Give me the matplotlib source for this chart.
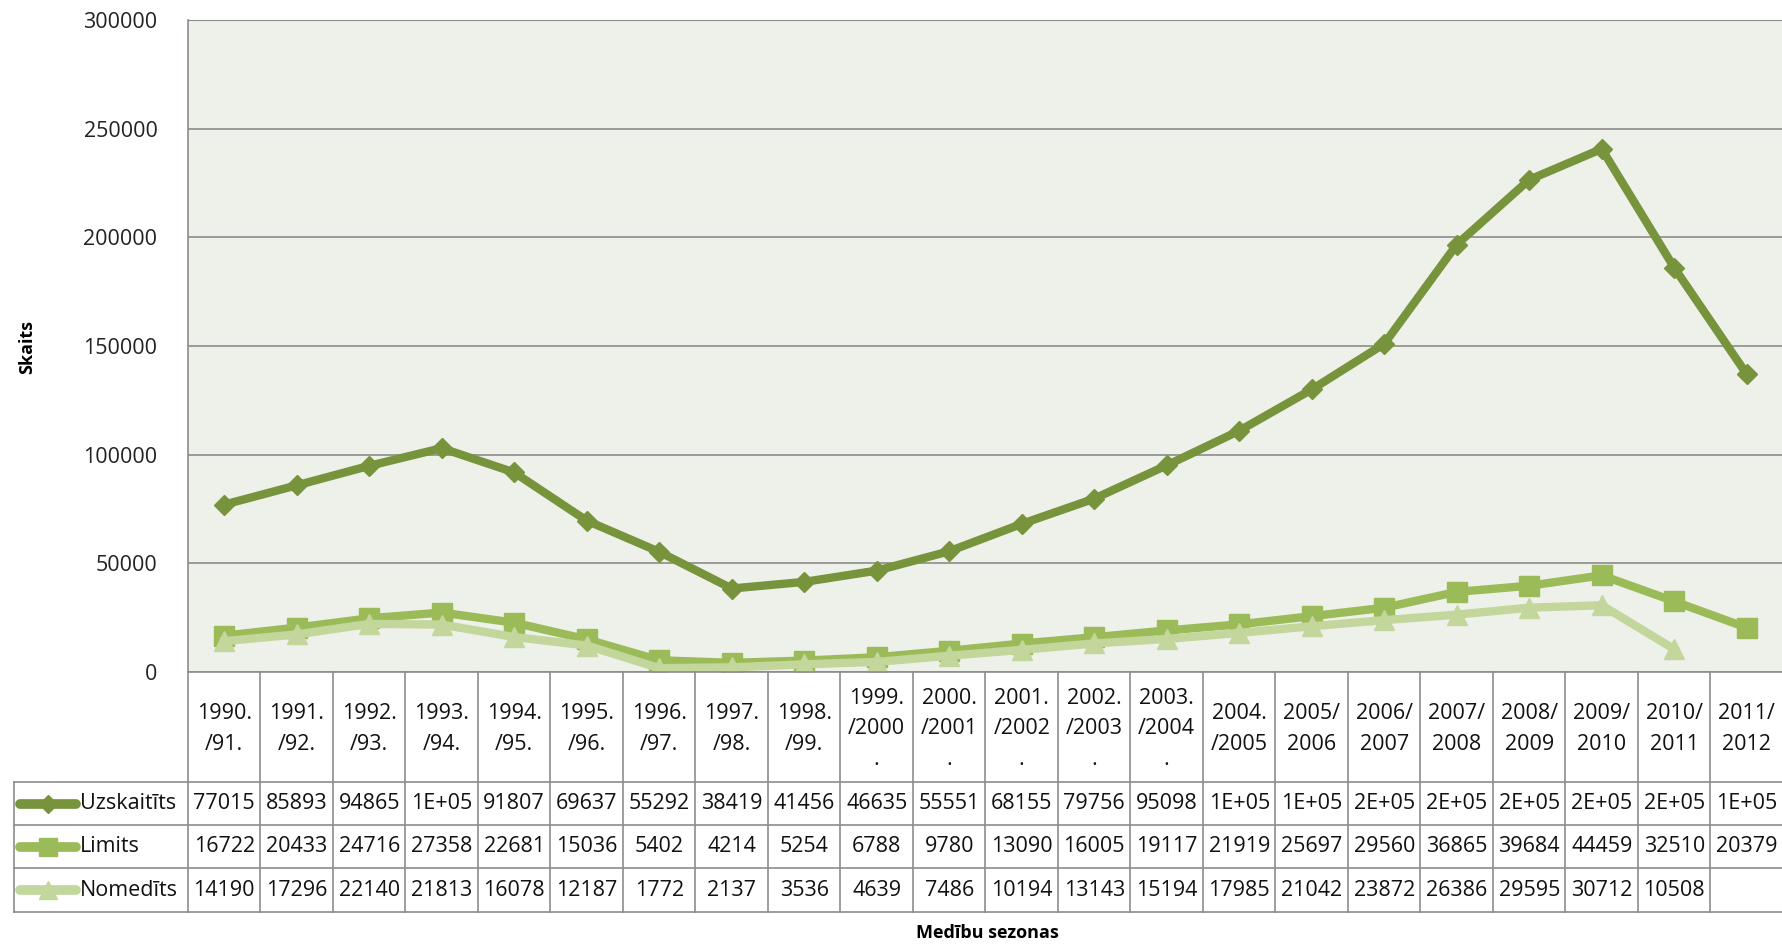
import matplotlib
matplotlib.use('Agg')
import matplotlib.pyplot as plt
import numpy as np
from matplotlib.lines import Line2D
from matplotlib import transforms

plt.rcParams['font.family'] = ['Open Sans', 'DejaVu Sans']

# kategorijas (medību sezonas)
sezonas = ['1990.\n/91.', '1991.\n/92.', '1992.\n/93.', '1993.\n/94.', '1994.\n/95.',
           '1995.\n/96.', '1996.\n/97.', '1997.\n/98.', '1998.\n/99.',
           '1999.\n/2000\n.', '2000.\n/2001\n.', '2001.\n/2002\n.', '2002.\n/2003\n.',
           '2003.\n/2004\n.', '2004.\n/2005', '2005/\n2006', '2006/\n2007', '2007/\n2008',
           '2008/\n2009', '2009/\n2010', '2010/\n2011', '2011/\n2012']

uzskaitits = [77015, 85893, 94865, 103000, 91807, 69637, 55292, 38419, 41456, 46635,
              55551, 68155, 79756, 95098, 111000, 130000, 151000, 196700, 226500,
              240700, 186000, 137000]
limits = [16722, 20433, 24716, 27358, 22681, 15036, 5402, 4214, 5254, 6788, 9780,
          13090, 16005, 19117, 21919, 25697, 29560, 36865, 39684, 44459, 32510, 20379]
nomedits = [14190, 17296, 22140, 21813, 16078, 12187, 1772, 2137, 3536, 4639, 7486,
            10194, 13143, 15194, 17985, 21042, 23872, 26386, 29595, 30712, 10508, np.nan]

serijas = [('Uzskaitīts', uzskaitits, '#77933C', 'D', 10),
           ('Limits', limits, '#9BBB59', 's', 14),
           ('Nomedīts', nomedits, '#C3D69B', '^', 14)]

W, H = 1783, 944
fig = plt.figure(figsize=(W / 100, H / 100), dpi=100)

top, bot, left = 20, 672, 188
ax = fig.add_axes([left / W, 1 - bot / H, (W - left) / W, (bot - top) / H])
ax.set_facecolor('#EEF1EA')

x = np.arange(len(sezonas))
for name, vals, col, mk, ms in serijas:
    ax.plot(x, vals, color=col, lw=6, marker=mk, ms=ms, solid_joinstyle='round')

ax.set_xlim(-0.5, len(sezonas) - 0.5)
ax.set_ylim(0, 300000)
ax.set_yticks(range(0, 300001, 50000))
ax.yaxis.grid(True, color='#8C8C8C', lw=1.2)
ax.set_axisbelow(True)
ax.tick_params(axis='y', length=0, pad=22, labelsize=15.5, labelcolor='#222222')
ax.tick_params(axis='x', length=0, labelbottom=False)
for s in ['right', 'bottom']:
    ax.spines[s].set_visible(False)
ax.spines['top'].set_color('#8C8C8C')
ax.spines['left'].set_color('#8C8C8C')
ax.spines['left'].set_linewidth(1.2)

# tabula zem grafika
def fy(py):
    return 1 - py / H

def fx(px):
    return px / W

tr = transforms.blended_transform_factory(ax.transData, fig.transFigure)
rows = [782, 825, 868, 912]
lc = '#8C8C8C'
fig.add_artist(Line2D([fx(left), 1], [fy(bot), fy(bot)], color=lc, lw=1.2))
for r in rows:
    fig.add_artist(Line2D([fx(14), 1], [fy(r), fy(r)], color=lc, lw=1.2))
fig.add_artist(Line2D([fx(14), fx(14)], [fy(rows[0]), fy(rows[-1])], color=lc, lw=1.2))
fig.add_artist(Line2D([fx(left), fx(left)], [fy(bot), fy(rows[-1])], color=lc, lw=1.2))
for i in range(1, len(sezonas)):
    ax.plot([i - 0.5, i - 0.5], [fy(bot), fy(rows[-1])], color=lc, lw=1.2,
            transform=tr, clip_on=False)

fs = 15.5
for i, lab in enumerate(sezonas):
    ax.text(i, fy(729), lab, transform=tr, ha='center', va='center', fontsize=fs,
            linespacing=1.6, color='#111111')

def fmt(v):
    if np.isnan(v):
        return ''
    if v >= 100000:
        return f'{v:.0E}'
    return f'{int(v)}'

for k, (name, vals, col, mk, ms) in enumerate(serijas):
    yc = fy((rows[k] + rows[k + 1]) / 2)
    fig.add_artist(Line2D([fx(20), fx(76)], [yc, yc], color=col, lw=7,
                          solid_capstyle='round', transform=fig.transFigure))
    fig.add_artist(Line2D([fx(48)], [yc], color=col, marker=mk, ms=ms * 0.9,
                          lw=0, transform=fig.transFigure))
    fig.text(fx(80), yc, name, ha='left', va='center', fontsize=fs, color='#111111')
    for i, v in enumerate(vals):
        ax.text(i, yc, fmt(float(v)), transform=tr, ha='center', va='center',
                fontsize=fs, color='#111111')

fig.text(fx(27), fy(347), 'Skaits', rotation=90, ha='center', va='center',
         fontsize=13, fontweight='bold')
fig.text(fx(987), fy(933), 'Medību sezonas', ha='center', va='center',
         fontsize=13, fontweight='bold')

fig.savefig('out.png', dpi=100, facecolor='white')
